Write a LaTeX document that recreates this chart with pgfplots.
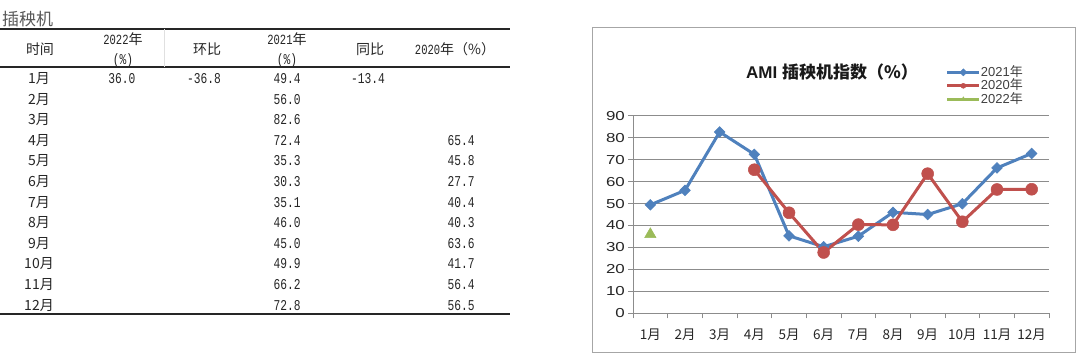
\documentclass[border=0pt]{standalone}
\usepackage{pgfplots}
\pgfplotsset{compat=1.18}
\usepackage{fontspec}
\setmainfont{Liberation Sans}
\newfontfamily\cjk{Noto Sans CJK SC}
\newfontfamily\mono[FakeStretch=0.75]{Liberation Mono}
\newfontfamily\widesans[FakeStretch=1.3]{Liberation Sans}
\definecolor{b21}{HTML}{4F81BD}
\definecolor{r20}{HTML}{C0504D}
\definecolor{g22}{HTML}{9BBB59}
\definecolor{gridc}{HTML}{8C8C8C}
\begin{document}
\begin{tikzpicture}[x=1pt,y=1pt,
  tab/.style={anchor=base,inner sep=0pt,text=black!85,font=\cjk\fontsize{14}{14}\selectfont},
  num/.style={anchor=base,inner sep=0pt,text=black!85,font=\mono\fontsize{15}{15}\selectfont}]
\useasboundingbox (0,0) rectangle (1080,362);
\fill[white] (0,0) rectangle (1080,362);
% ---- table ----
\node[anchor=west,inner sep=0pt,text=black!65,font=\cjk\fontsize{17}{17}\selectfont] at (2,343) {插秧机};
\draw[line width=1.5pt,black!85] (0,333) -- (510,333);
\draw[line width=1.5pt,black!85] (0,295) -- (510,295);
\draw[line width=1.5pt,black!85] (0,48) -- (510,48);
\draw[black!12,line width=0.8pt] (164,333) -- (164,295);
\node[tab] at (40,307.5) {时间};
\node[tab] at (123,317.5) {{\mono 2022}年};
\node[num] at (123,297.5) {(\%)};
\node[tab] at (207,307.5) {环比};
\node[tab] at (287,317.5) {{\mono 2021}年};
\node[num] at (287,297.5) {(\%)};
\node[tab] at (370,307.5) {同比};
\node[tab] at (455,307.5) {{\mono 2020}年（\%）};
\node[num] at (122,278.5) {36.0};
\node[num] at (204,278.5) {-36.8};
\node[num] at (368,278.5) {-13.4};
\foreach \i/\v/\w in {1/49.4/,2/56.0/,3/82.6/,4/72.4/65.4,5/35.3/45.8,6/30.3/27.7,7/35.1/40.4,8/46.0/40.3,9/45.0/63.6,10/49.9/41.7,11/66.2/56.4,12/72.8/56.5}{
  \pgfmathsetmacro\yy{283-20.6*(\i-1)-4.5}
  \node[tab] at (39,\yy) {{\i}月};
  \node[num] at (287,\yy) {\v};
  \node[num] at (461,\yy) {\w};
}
% ---- chart frame ----
\draw[black!35,line width=0.8pt] (592,335) rectangle (1075,10);
\node[inner sep=0pt,font=\bfseries\fontsize{17}{17}\selectfont,text=black!90] at (832,290) {AMI {\cjk 插秧机指数（\%）}};
\begin{axis}[at={(633pt,48.7pt)},anchor=south west,scale only axis,
  width=416pt,height=197.6pt,
  xmin=0.5,xmax=12.5,ymin=0,ymax=90,
  axis lines=left,axis line style={-,draw=gridc,line width=0.8pt},
  xtick={1,...,12},
  xticklabels={1月,2月,3月,4月,5月,6月,7月,8月,9月,10月,11月,12月},
  minor xtick={0.5,1.5,...,12.5},
  major x tick style={draw=none},
  minor x tick style={draw=gridc,line width=0.8pt},
  ytick={0,10,...,90},
  ytick style={draw=gridc,line width=0.8pt},
  tick align=outside,major tick length=5pt,minor tick length=5pt,
  ymajorgrids,grid style={draw=gridc,line width=0.8pt},
  /pgf/number format/assume math mode=true,
  xticklabel style={font=\cjk\fontsize{13.5}{13.5}\selectfont,text=black!85,yshift=-7pt},
  yticklabel style={font=\widesans\fontsize{13}{13}\selectfont,text=black!85,inner sep=3pt},
  legend style={at={(0.752,1.25)},anchor=north west,draw=none,fill=none,
    inner sep=0pt,outer sep=0pt,row sep=1.5pt,
    nodes={inner sep=0pt,text height=10pt,text depth=2pt,font=\fontsize{13}{13}\selectfont,text=black!75},
    /tikz/every even column/.append style={column sep=1pt}},
  legend cell align=left,
  legend image code/.code={\draw[mark repeat=2,mark phase=2,#1,mark size=2.5pt] plot coordinates {(0pt,0pt) (16pt,0pt) (32pt,0pt)};},
]
\addplot[b21,line width=3pt,mark=square*,mark size=3.8pt,mark options={solid,rotate=45,line width=0.5pt,fill=b21}]
  coordinates {(1,49.4)(2,56.0)(3,82.6)(4,72.4)(5,35.3)(6,30.3)(7,35.1)(8,46.0)(9,45.0)(10,49.9)(11,66.2)(12,72.8)};
\addlegendentry{2021{\cjk 年}}
\addplot[r20,line width=3pt,mark=*,mark size=6pt,mark options={solid,line width=0.5pt,fill=r20}]
  coordinates {(4,65.4)(5,45.8)(6,27.7)(7,40.4)(8,40.3)(9,63.6)(10,41.7)(11,56.4)(12,56.5)};
\addlegendentry{2020{\cjk 年}}
\addplot[g22,line width=3pt,mark=triangle*,mark size=6.5pt,mark options={solid,line width=0.5pt,fill=g22}]
  coordinates {(1,36.0)};
\addlegendentry{2022{\cjk 年}}
\end{axis}
\end{tikzpicture}
\end{document}
